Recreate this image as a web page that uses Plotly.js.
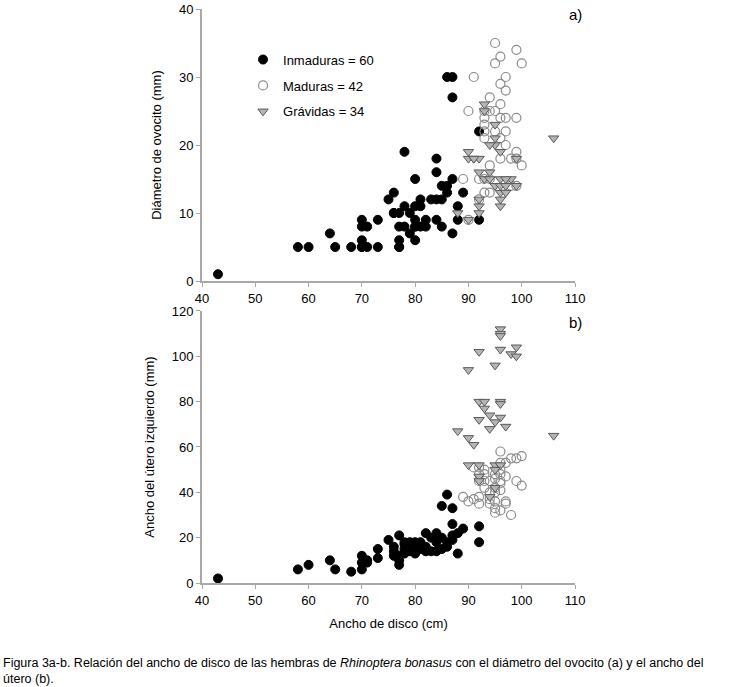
<!DOCTYPE html>
<html>
<head>
<meta charset="utf-8">
<script src="https://cdn.plot.ly/plotly-3.0.1.min.js"></script>
<style>html,body{margin:0;padding:0;background:#fff;}#chart{width:740px;height:687px;}</style>
</head>
<body>
<div id="chart"></div>
<script>
// Panel a) Diámetro de ovocito
const inmA_x = [43,58,60,64,65,68,70,71,73,77,70,77,80,79,87,70,71,77,78,80,81,82,85,70,73,80,82,84,88,92,76,77,79,78,80,81,88,75,81,83,85,76,86,89,85,86,80,87,84,84,78,92,87,86,87,70,77,80,84,76];
const inmA_y = [1,5,5,7,5,5,5,5,5,5,6,6,6,7,7,8,8,8,8,8,8,8,8,9,9,9,9,9,9,9,10,10,10,11,11,11,11,12,12,12,12,13,13,13,14,14,15,15,16,18,19,22,27,30,30,5,5,8,12,10];
const madA_x = [95,99,96,95,100,91,97,96,97,94,96,90,93,94,95,96,97,99,93,93,93,95,97,93,96,97,96,99,98,99,100,94,92,89,93,94,98,99,93,94,92,90];
const madA_y = [35,34,33,32,32,30,30,29,28,27,26,25,25,25,25,24,24,24,24,23,22,22,22,21,21,20,18,19,18,18,17,17,15,15,15,15,14,14,13,13,12,9];
const graA_x = [93,95,95,94,106,90,96,90,91,92,99,92,94,93,94,96,98,95,96,97,99,96,97,92,96,92,96,88,92,90,93,95,91,97];
const graA_y = [26,21,20,20,21,19,19,18,18,18,18,16,16,15,15,15,15,14,14,14,14,13,13,12,12,11,11,10,10,9,25,23,18,15];

// Panel b) Ancho del útero izquierdo
const inmB_x = [43,58,60,64,65,68,70,70,70,71,71,73,73,75,76,76,77,77,77,77,78,79,80,81,78,79,80,79,80,81,82,83,82,84,83,84,85,86,85,86,87,87,87,87,88,89,88,92,92,78,80,81,84,86,85,80,76,82,78,79];
const inmB_y = [2,6,8,10,6,5,6,9,12,10,9,11,15,19,16,12,12,10,8,21,18,18,18,18,15,15,15,16,16,15,14,14,22,22,20,18,15,16,34,39,33,26,21,19,22,24,13,25,18,17,14,17,14,18,20,13,14,16,13,14];
const madB_x = [96,100,99,98,97,96,91,92,93,92,93,94,96,93,95,96,99,100,89,90,92,92,94,94,95,97,97,95,96,98,95,96,96,95,94,92,93,96,95,97,91,95];
const madB_y = [58,56,55,55,53,53,51,51,48,48,45,45,44,42,42,41,45,43,38,36,38,35,37,35,36,36,35,31,32,30,48,48,45,40,40,45,50,50,46,47,37,33];
const graB_x = [96,96,96,99,96,92,98,99,95,90,92,93,96,96,93,94,92,96,95,94,97,88,106,90,91,90,92,95,96,95,92,92,94,95];
const graB_y = [112,110,109,104,103,102,101,100,96,94,80,80,80,79,77,74,72,73,71,68,69,67,65,64,61,52,52,52,52,50,47,45,38,42];

const legendNames = ['Inmaduras = 60', 'Maduras = 42', 'Grávidas = 34'];

const FONT = '"Liberation Sans", Arial, sans-serif';

const mInm = {symbol: 'circle', size: 9, color: '#000000', line: {color: '#000000', width: 1}};
const mMad = {symbol: 'circle-open', size: 9, color: '#8c8c8c', line: {color: '#8c8c8c', width: 1.2}};
const mGra = {symbol: 'triangle-down', size: 9, color: '#b4b4b4', line: {color: '#5a5a5a', width: 1}};

const traces = [
  {x: inmA_x, y: inmA_y, xaxis: 'x', yaxis: 'y', mode: 'markers', type: 'scatter', name: legendNames[0], legendgroup: 'g1', marker: mInm, cliponaxis: false},
  {x: madA_x, y: madA_y, xaxis: 'x', yaxis: 'y', mode: 'markers', type: 'scatter', name: legendNames[1], legendgroup: 'g2', marker: mMad, cliponaxis: false},
  {x: graA_x, y: graA_y, xaxis: 'x', yaxis: 'y', mode: 'markers', type: 'scatter', name: legendNames[2], legendgroup: 'g3', marker: mGra, cliponaxis: false},
  {x: inmB_x, y: inmB_y, xaxis: 'x2', yaxis: 'y2', mode: 'markers', type: 'scatter', name: legendNames[0], legendgroup: 'g1', showlegend: false, marker: mInm, cliponaxis: false},
  {x: madB_x, y: madB_y, xaxis: 'x2', yaxis: 'y2', mode: 'markers', type: 'scatter', name: legendNames[1], legendgroup: 'g2', showlegend: false, marker: mMad, cliponaxis: false},
  {x: graB_x, y: graB_y, xaxis: 'x2', yaxis: 'y2', mode: 'markers', type: 'scatter', name: legendNames[2], legendgroup: 'g3', showlegend: false, marker: mGra, cliponaxis: false}
];

const axisCommon = {
  showline: true, linecolor: '#a8a8a8', linewidth: 2,
  ticks: 'outside', ticklen: 4, tickcolor: '#a8a8a8', tickwidth: 1,
  showgrid: false, zeroline: false,
  tickfont: {family: FONT, size: 13, color: '#000'}
};

const layout = {
  width: 740, height: 687,
  margin: {l: 202, r: 165, t: 9, b: 104},
  paper_bgcolor: '#ffffff', plot_bgcolor: '#ffffff',
  font: {family: FONT, color: '#000'},
  showlegend: true,
  legend: {
    x: 0.11, y: 0.938, xanchor: 'left', yanchor: 'top',
    font: {family: FONT, size: 13, color: '#000'},
    traceorder: 'grouped', tracegroupgap: 6,
    bgcolor: 'rgba(255,255,255,0)', itemwidth: 30
  },
  xaxis: Object.assign({}, axisCommon, {domain: [0, 1], anchor: 'y', range: [40, 110], tick0: 40, dtick: 10}),
  yaxis: Object.assign({}, axisCommon, {domain: [0.5261, 1], anchor: 'x', range: [0, 40], tick0: 0, dtick: 10,
    title: {text: 'Diámetro de ovocito (mm)', font: {family: FONT, size: 13, color: '#000'}, standoff: 14}}),
  xaxis2: Object.assign({}, axisCommon, {domain: [0, 1], anchor: 'y2', range: [40, 110], tick0: 40, dtick: 10,
    title: {text: 'Ancho de disco (cm)', font: {family: FONT, size: 13, color: '#000'}, standoff: 12}}),
  yaxis2: Object.assign({}, axisCommon, {domain: [0, 0.4739], anchor: 'x2', range: [0, 120], tick0: 0, dtick: 20,
    title: {text: 'Ancho del útero izquierdo (mm)', font: {family: FONT, size: 13, color: '#000'}, standoff: 14}}),
  annotations: [
    {text: 'a)', xref: 'paper', yref: 'paper', x: 1.0, y: 0.991, xanchor: 'center', yanchor: 'middle', showarrow: false, font: {family: FONT, size: 15, color: '#000'}},
    {text: 'b)', xref: 'paper', yref: 'paper', x: 1.0, y: 0.4547, xanchor: 'center', yanchor: 'middle', showarrow: false, font: {family: FONT, size: 15, color: '#000'}},
    {text: 'Figura 3a-b. Relación del ancho de disco de las hembras de <i>Rhinoptera bonasus</i> con el diámetro del ovocito (a) y el ancho del<br>útero (b).',
     xref: 'paper', yref: 'paper', x: -0.538, y: -0.1235, xanchor: 'left', yanchor: 'top', align: 'left', showarrow: false,
     font: {family: FONT, size: 12.5, color: '#000'}}
  ]
};

Plotly.newPlot('chart', traces, layout, {displayModeBar: false, staticPlot: true});
</script>
</body>
</html>
